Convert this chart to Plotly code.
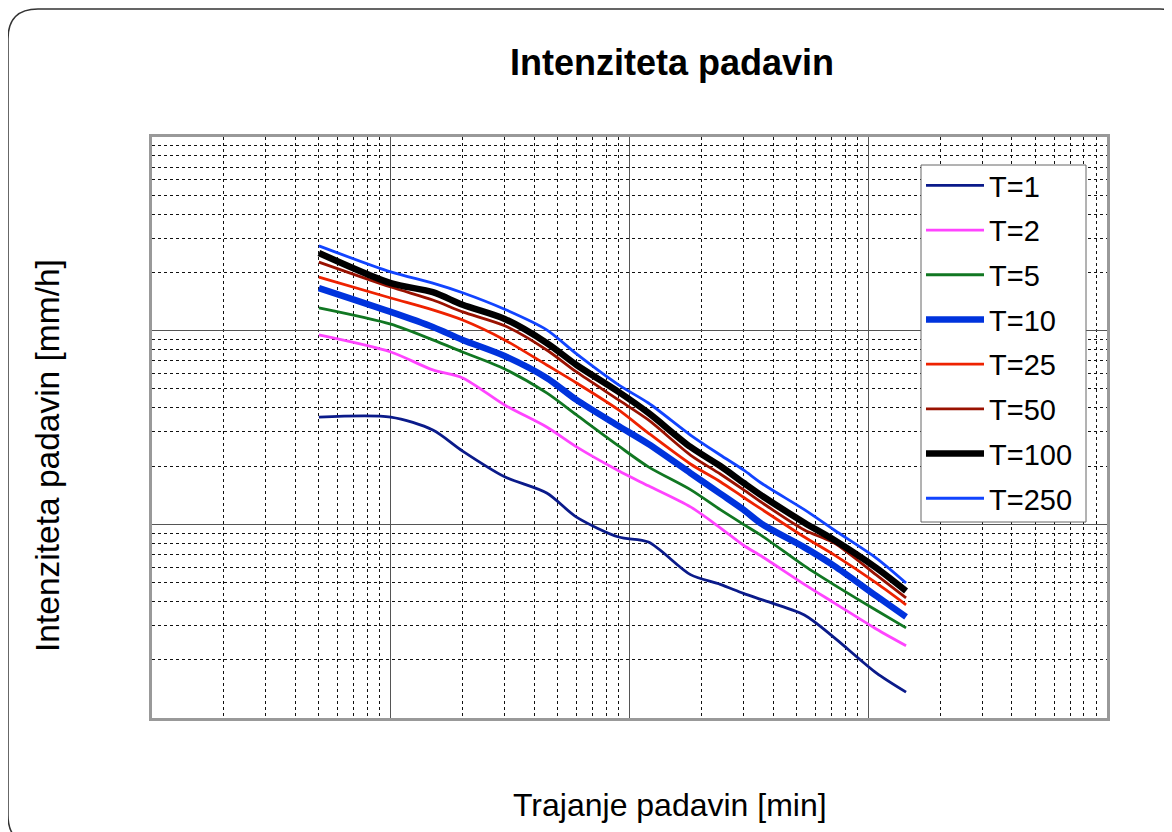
import plotly.graph_objects as go

# Durations [min]
durations = [5, 10, 15, 20, 30, 45, 60, 90, 120, 180, 240, 300, 360, 540, 720, 1080, 1440]

# Intensities [mm/h] per return period
t1 = [35.8, 35.8, 30.7, 23.9, 17.6, 14.5, 10.9, 8.6, 8.1, 5.5, 4.9, 4.4, 4.07, 3.4, 2.6, 1.71, 1.36]
t2 = [95, 77.6, 62.7, 57, 41.3, 31.8, 25.1, 18.9, 15.8, 12.3, 9.6, 7.8, 6.8, 4.9, 3.93, 2.88, 2.36]
t5 = [131, 108, 89.6, 77.6, 63.4, 47.7, 36.7, 25.4, 19.8, 15.1, 11.9, 10.0, 8.7, 6.1, 4.87, 3.6, 2.92]
t10 = [166, 125, 104.5, 89.6, 74, 57, 43.9, 32.2, 26.0, 18.4, 14.4, 11.9, 10.0, 7.6, 6.1, 4.27, 3.33]
t25 = [189, 147.5, 128, 113.5, 89.6, 66.5, 53.7, 39, 29.6, 20.5, 16.6, 13.8, 11.9, 8.6, 6.95, 4.98, 3.84]
t50 = [226, 168, 144, 125, 106, 79.5, 61.2, 43.9, 34.6, 22.8, 18.2, 15.1, 12.9, 9.35, 8.0, 5.48, 4.17]
t100 = [252, 176, 158, 136, 115, 86.4, 66.5, 48.3, 37.6, 25.1, 20, 16.4, 14.0, 10.2, 8.3, 5.96, 4.53]
t250 = [274, 201, 176, 157, 129, 101, 75.8, 52.5, 42.3, 28.9, 22.8, 19.1, 16.2, 11.9, 9.35, 6.7, 4.98]

series_names = ["T=1", "T=2", "T=5", "T=10", "T=25", "T=50", "T=100", "T=250"]
series_values = [t1, t2, t5, t10, t25, t50, t100, t250]
series_colors = ["#0a1a8a", "#ff44ff", "#117722", "#0033dd", "#ee2200", "#991100", "#000000", "#1144ff"]
series_widths = [2.8, 2.8, 2.8, 6.5, 2.8, 2.8, 6.5, 2.8]

title_text = "Intenziteta padavin"
x_title = "Trajanje padavin [min]"
y_title = "Intenziteta padavin [mm/h]"

x_major = [1, 10, 100, 1000, 10000]
y_major = [1, 10, 100, 1000]
x_minor = [k * 10 ** e for e in range(4) for k in range(2, 10)]
y_minor = [k * 10 ** e for e in range(3) for k in range(2, 10)]

fig = go.Figure()
for name, vals, col, w in zip(series_names, series_values, series_colors, series_widths):
    fig.add_trace(go.Scatter(
        x=durations, y=vals, name=name, mode="lines",
        line=dict(color=col, width=w, shape="spline", smoothing=0.8),
        legendgroup=name,
    ))

# page has an 8px body margin; work in screenshot pixels
OFF = 8
W, H = 1172, 832
PL, PR, PT, PB = 152, 1107, 137, 718  # plot area in screenshot px
L = PL - OFF
T = PT - OFF
R = W - (PR - OFF)
B = H - (PB - OFF)
pw, ph = PR - PL, PB - PT

def px2paper(x, y):
    return (x - PL) / pw, (PB - y) / ph

axis_common = dict(
    type="log", showticklabels=False, ticks="",
    showgrid=True, gridcolor="#555555", gridwidth=1.2,
    showline=True, mirror=True, linecolor="#999999", linewidth=3,
    zeroline=False,
)
fig.update_xaxes(**axis_common, range=[0, 4], tickvals=x_major,
                 minor=dict(tickvals=x_minor, showgrid=True, gridcolor="#111111",
                            griddash="dot", gridwidth=1, ticks=""))
fig.update_yaxes(**axis_common, range=[0, 3], tickvals=y_major,
                 minor=dict(tickvals=y_minor, showgrid=True, gridcolor="#111111",
                            griddash="dot", gridwidth=1, ticks=""))

# rounded outer frame
x0, y0, x1, y1, r = 8, 9, 1190, 845, 30
def P(x, y):
    a, b = px2paper(x, y)
    return f"{a:.5f},{b:.5f}"
path = (f"M {P(x0 + r, y0)} L {P(x1 - r, y0)} Q {P(x1, y0)} {P(x1, y0 + r)} "
        f"L {P(x1, y1 - r)} Q {P(x1, y1)} {P(x1 - r, y1)} "
        f"L {P(x0 + r, y1)} Q {P(x0, y1)} {P(x0, y1 - r)} "
        f"L {P(x0, y0 + r)} Q {P(x0, y0)} {P(x0 + r, y0)} Z")
fig.add_shape(type="path", xref="paper", yref="paper", path=path,
              line=dict(color="#333333", width=1.5), layer="below")

# legend box
bx0, by0 = px2paper(921, 165)
bx1, by1 = px2paper(1086, 522)
fig.add_shape(type="rect", xref="paper", yref="paper", x0=bx0, y0=by1, x1=bx1, y1=by0,
              fillcolor="white", line=dict(color="#666666", width=1), layer="above")

tx, ty = px2paper(672, 63)
fig.add_annotation(text=f"<b>{title_text}</b>", x=tx, y=ty, xref="paper", yref="paper",
                   showarrow=False, font=dict(size=36, color="#000000", family="Liberation Sans"),
                   xanchor="center", yanchor="middle")
ax_, ay_ = px2paper(670, 805)
fig.add_annotation(text=x_title, x=ax_, y=ay_, xref="paper", yref="paper",
                   showarrow=False, font=dict(size=32, color="#000000", family="Liberation Sans"),
                   xanchor="center", yanchor="middle")
yx_, yy_ = px2paper(47, 456)
fig.add_annotation(text=y_title, x=yx_, y=yy_, xref="paper", yref="paper", textangle=-90,
                   showarrow=False, font=dict(size=33.5, color="#000000", family="Liberation Sans"),
                   xanchor="center", yanchor="middle")

lx, ly = px2paper(921, 160)
fig.update_layout(
    width=W, height=H,
    margin=dict(l=L, r=R, t=T, b=B),
    paper_bgcolor="white", plot_bgcolor="white",
    showlegend=True,
    legend=dict(x=lx, y=ly, xanchor="left", yanchor="top",
                bgcolor="rgba(0,0,0,0)", borderwidth=0,
                font=dict(size=29, color="#000000", family="Liberation Sans"),
                tracegroupgap=4, itemwidth=58),
    font=dict(family="Liberation Sans"),
)

fig.write_html("out.html")
